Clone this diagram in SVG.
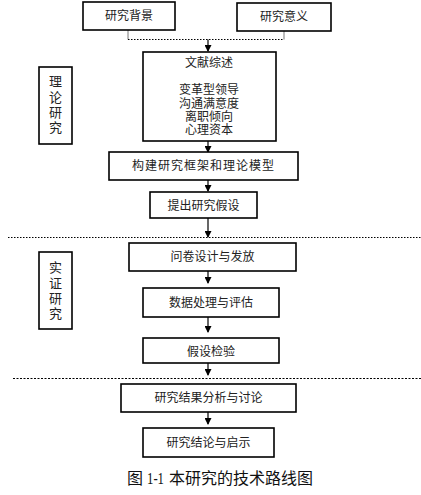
<svg xmlns="http://www.w3.org/2000/svg" width="421" height="495" viewBox="0 0 421 495">
<style>
.box{fill:#fff;stroke:#000;stroke-width:1.6}
.t{font-family:"Liberation Serif","Noto Sans CJK SC",serif;font-size:12px;fill:#222;text-anchor:middle;dominant-baseline:central}
.lt{font-family:"Liberation Serif","Noto Sans CJK SC",serif;font-size:13px;fill:#222;text-anchor:middle;dominant-baseline:central}
.cap{font-family:"Liberation Serif","Noto Sans CJK SC",serif;font-size:16px;fill:#111;dominant-baseline:central}
.ar{stroke:#000;stroke-width:1.2;fill:none;marker-end:url(#ah)}
.dot{stroke:#000;stroke-width:1;stroke-dasharray:1.5 1.5;fill:none}
.thin{stroke:#555;stroke-width:0.8;fill:none}
</style>
<defs>
<marker id="ah" markerWidth="7" markerHeight="7" refX="6" refY="3.5" orient="auto" markerUnits="userSpaceOnUse">
<path d="M0,0 L7,3.5 L0,7 Z" fill="#000"/>
</marker>
</defs>
<g id="connectors">
<path class="thin" d="M128,30 V39.5 M284,31 V39.5"/>
<path class="dot" d="M128,39.5 H284"/>
<path class="ar" d="M208,39.5 V51"/>
<path class="ar" d="M208,141 V152"/>
<path class="ar" d="M208,180 V191"/>
<path class="ar" d="M208,218 V237"/>
<path class="ar" d="M208,271 V283"/>
<path class="ar" d="M208,317 V332"/>
<path class="ar" d="M208,363 V375"/>
<path class="ar" d="M208,412 V424"/>
<path class="dot" d="M8,237.5 H421"/>
<path class="dot" d="M13,378.5 H421" style="stroke-dasharray:2 1.5"/>
</g>
<g id="bg"><rect class="box" x="83" y="2" width="92" height="28"/><text class="t" x="129" y="16">研究背景</text></g>
<g id="yy"><rect class="box" x="237" y="3" width="94" height="28"/><text class="t" x="284" y="17">研究意义</text></g>
<g id="wx"><rect class="box" x="143" y="52" width="133" height="89"/>
<text class="t" x="209" y="63">文献综述</text>
<text class="t" x="209" y="90">变革型领导</text>
<text class="t" x="209" y="104">沟通满意度</text>
<text class="t" x="209" y="117">离职倾向</text>
<text class="t" x="209" y="130">心理资本</text></g>
<g id="llyj"><rect class="box" x="39" y="67" width="33" height="77"/>
<text class="lt" x="55.5" y="81">理</text><text class="lt" x="55.5" y="97">论</text><text class="lt" x="55.5" y="112">研</text><text class="lt" x="55.5" y="127">究</text></g>
<g id="gj"><rect class="box" x="109" y="152" width="189" height="28"/><text class="t" x="203.5" y="166" style="letter-spacing:1px">构建研究框架和理论模型</text></g>
<g id="tc"><rect class="box" x="150" y="192" width="107" height="26"/><text class="t" x="203.5" y="206">提出研究假设</text></g>
<g id="wj"><rect class="box" x="129" y="243" width="167" height="28"/><text class="t" x="212.5" y="257">问卷设计与发放</text></g>
<g id="szyj"><rect class="box" x="39" y="252" width="33" height="77"/>
<text class="lt" x="55.5" y="267">实</text><text class="lt" x="55.5" y="283">证</text><text class="lt" x="55.5" y="298">研</text><text class="lt" x="55.5" y="313">究</text></g>
<g id="sj"><rect class="box" x="143" y="288" width="136" height="29"/><text class="t" x="211" y="303">数据处理与评估</text></g>
<g id="jy"><rect class="box" x="143" y="338" width="136" height="25"/><text class="t" x="211" y="352">假设检验</text></g>
<g id="fx"><rect class="box" x="121" y="384" width="175" height="28"/><text class="t" x="208.5" y="398">研究结果分析与讨论</text></g>
<g id="jl"><rect class="box" x="143" y="428" width="131" height="29"/><text class="t" x="208.5" y="443">研究结论与启示</text></g>
<text class="cap" x="127" y="478">图</text>
<text class="cap" x="147" y="478" textLength="17" lengthAdjust="spacingAndGlyphs">1-1</text>
<text class="cap" x="169" y="478">本研究的技术路线图</text>
</svg>
